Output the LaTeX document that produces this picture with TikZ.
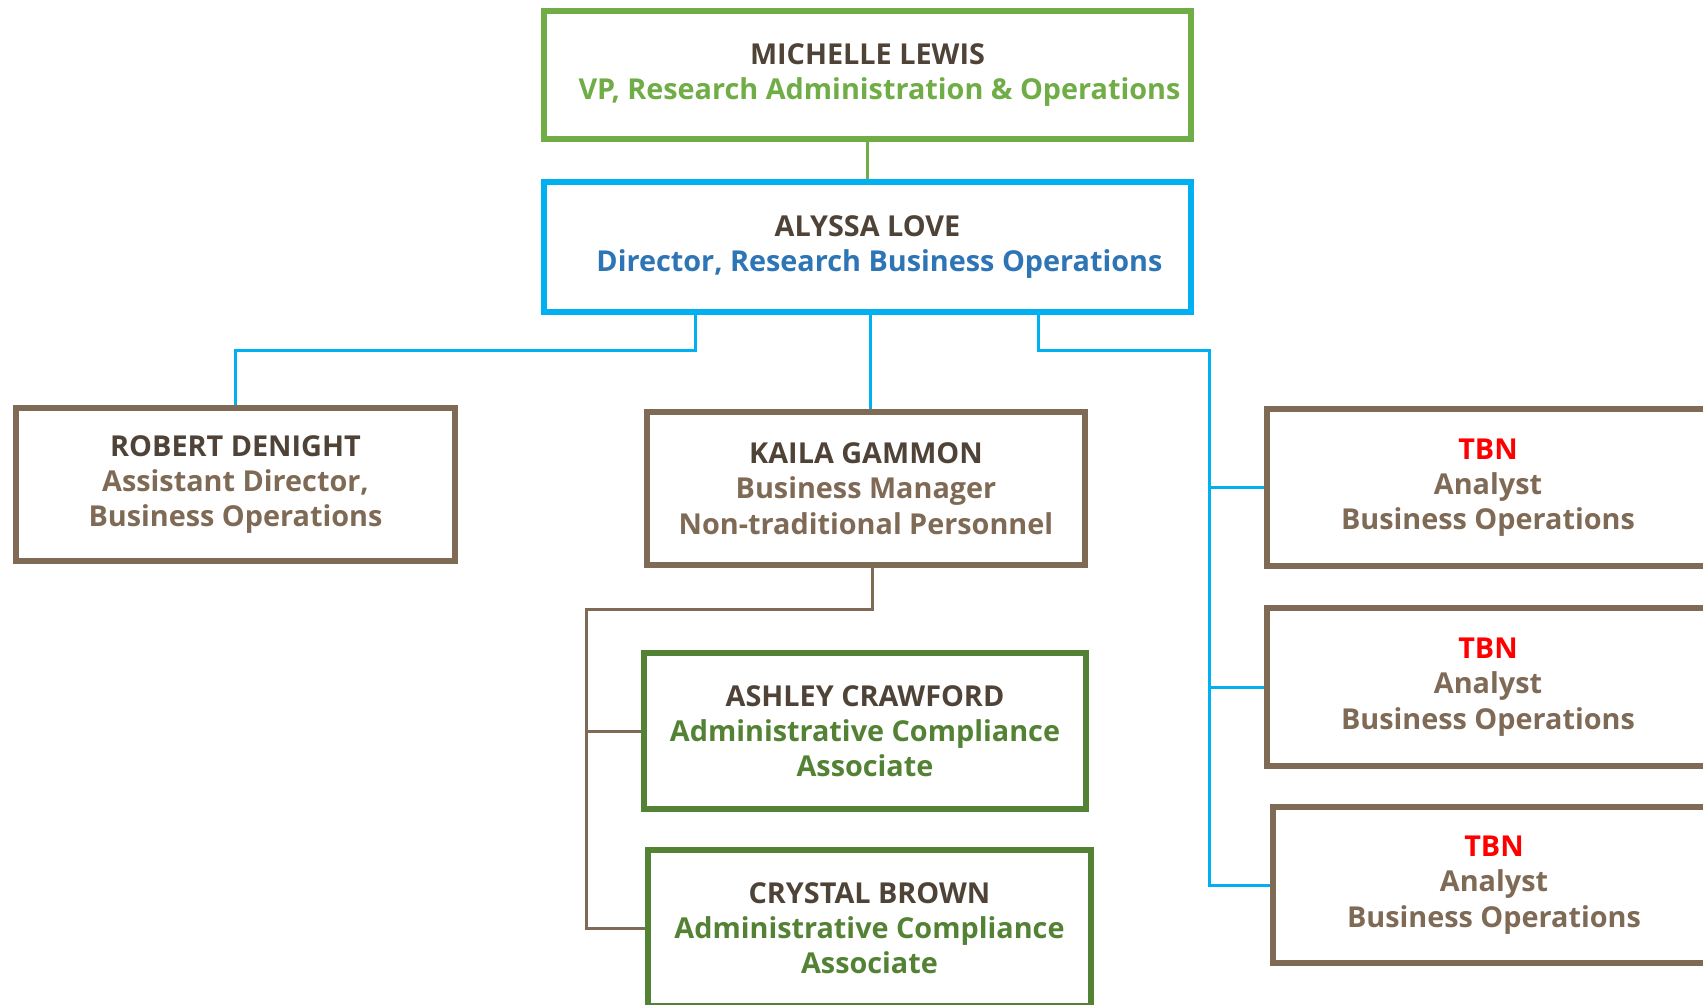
\documentclass[tikz,border=0pt]{standalone}
\usepackage{fontspec}
\setmainfont{Open Sans}
\definecolor{topgreen}{HTML}{70AD47}
\definecolor{dkgreen}{HTML}{548235}
\definecolor{skyblue}{HTML}{00B0F0}
\definecolor{titleblue}{HTML}{2E75B6}
\definecolor{brownline}{HTML}{7F6A56}
\definecolor{namebrown}{HTML}{4F4237}
\definecolor{tbnred}{HTML}{FF0000}
\begin{document}
\begin{tikzpicture}[x=0.5pt,y=-0.5pt,
  box/.style={draw, line width=2.8pt, inner sep=0pt, align=center,
    font=\fontsize{14.4}{17.6}\selectfont\bfseries, minimum height=76.5pt, minimum width=220pt},
  brbox/.style={box, draw=brownline, text=brownline},
  grbox/.style={box, draw=dkgreen, text=dkgreen},
  bline/.style={draw=skyblue, line width=1.5pt},
  brline/.style={draw=brownline, line width=1.5pt},
  gline/.style={draw=topgreen, line width=1.5pt}]
\useasboundingbox (0,0) rectangle (1703,1005);
\clip (0,0) rectangle (1703,1005);
\fill[white] (0,0) rectangle (1703,1005);

\node[box, draw=topgreen, text=topgreen, minimum width=323.5pt, minimum height=64pt] (mich) at (867.5,75)
  {\raisebox{0pt}[\height][\depth]{\textcolor{namebrown}{MICHELLE LEWIS}}\\ \hspace*{12pt}VP, Research Administration \& Operations};
\node[box, draw=skyblue, line width=3pt, text=titleblue, minimum width=323.5pt, minimum height=65pt] (aly) at (867.5,247)
  {\textcolor{namebrown}{ALYSSA LOVE}\\ \hspace*{12pt}Director, Research Business Operations};

\node[brbox, minimum width=219.5pt] (rob) at (235.5,484.5)
  {\textcolor{namebrown}{ROBERT DENIGHT}\\ Assistant Director,\\ Business Operations};
\node[brbox, minimum width=219pt] (kai) at (866,488.5)
  {\textcolor{namebrown}{KAILA GAMMON}\\ Business Manager\\ Non-traditional Personnel};

\node[grbox, minimum width=221pt, minimum height=78pt] (ash) at (865,731)
  {\textcolor{namebrown}{ASHLEY CRAWFORD}\\ Administrative Compliance\\ Associate};
\node[grbox, minimum width=221.5pt, minimum height=78pt] (cry) at (869.5,928)
  {\textcolor{namebrown}{CRYSTAL BROWN}\\ Administrative Compliance\\ Associate};

\node[brbox, minimum width=221pt, minimum height=78.5pt] (t1) at (1488,487.5)
  {\textcolor{tbnred}{TBN}\\ Analyst\\ Business Operations};
\node[brbox, minimum width=221pt, minimum height=79pt] (t2) at (1488,687)
  {\textcolor{tbnred}{TBN}\\ Analyst\\ Business Operations};
\node[brbox, minimum width=221pt, minimum height=78pt] (t3) at (1494,885)
  {\textcolor{tbnred}{TBN}\\ Analyst\\ Business Operations};

% connectors
\draw[gline] (mich.south) -- (aly.north);
\coordinate (a1) at (695,351);
\coordinate (a2) at (870,351);
\coordinate (a3) at (1038,351);
\coordinate (rv) at (1209,351);
\draw[bline] (a1 |- aly.south) -- (a1) -| (rob.north);
\draw[bline] (a2 |- aly.south) -- (a2 |- kai.north);
\draw[bline] (a3 |- aly.south) -- (a3) -- (rv) -- (rv |- t3.west) -- (t3.west);
\draw[bline] (rv |- t1.west) -- (t1.west);
\draw[bline] (rv |- t2.west) -- (t2.west);

\coordinate (k1) at (586,609);
\coordinate (k0) at (872,609);
\draw[brline] (k0 |- kai.south) -- (k0) -- (k1) -- (k1 |- cry.west) -- (cry.west);
\draw[brline] (k1 |- ash.west) -- (ash.west);
\end{tikzpicture}
\end{document}
